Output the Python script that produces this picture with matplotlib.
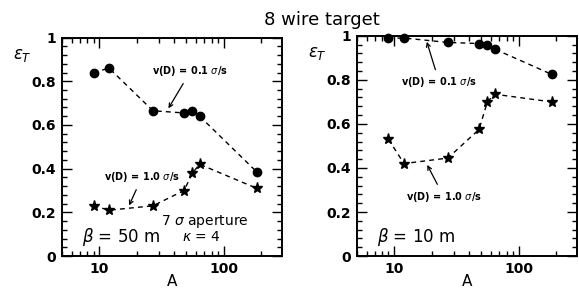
import matplotlib
matplotlib.use("Agg")
import matplotlib.pyplot as plt
from matplotlib.ticker import MultipleLocator, FixedLocator, NullFormatter, LogLocator

# Data
A = [9, 12, 27, 48, 56, 64, 184]
eff50_slow = [0.84, 0.86, 0.665, 0.655, 0.665, 0.64, 0.385]
eff50_fast = [0.23, 0.21, 0.23, 0.30, 0.38, 0.42, 0.31]
eff10_slow = [0.99, 0.99, 0.97, 0.965, 0.958, 0.94, 0.825]
eff10_fast = [0.53, 0.42, 0.445, 0.575, 0.70, 0.735, 0.70]
yticks = [0, 0.2, 0.4, 0.6, 0.8, 1]
ytick_labels = ["0", "0.2", "0.4", "0.6", "0.8", "1"]
xticks = [10, 100]
xtick_labels = ["10", "100"]

plt.rcParams['font.family'] = ['DejaVu Sans']
plt.rcParams['mathtext.fontset'] = 'dejavusans'

fig = plt.figure(figsize=(5.79, 2.89), dpi=100)
ax1 = fig.add_axes([0.1066, 0.114, 0.381, 0.756])
ax2 = fig.add_axes([0.616, 0.114, 0.381, 0.762])

fig.text(0.556, 0.93, "8 wire target", ha='center', va='center', fontsize=13)

def style(ax):
    ax.set_xscale('log')
    ax.set_xlim(5, 295)
    ax.set_ylim(0, 1)
    ax.set_yticks(yticks)
    ax.set_yticklabels(ytick_labels, fontsize=10, fontweight='bold')
    ax.yaxis.set_minor_locator(MultipleLocator(0.04))
    ax.set_xticks(xticks)
    ax.set_xticklabels(xtick_labels, fontsize=10, fontweight='bold')
    ax.xaxis.set_minor_locator(LogLocator(base=10, subs=range(2, 10)))
    ax.xaxis.set_minor_formatter(NullFormatter())
    ax.tick_params(which='both', direction='in', top=True, right=True, width=1)
    ax.tick_params(which='major', length=7, pad=4)
    ax.tick_params(which='minor', length=3.5)
    for s in ax.spines.values():
        s.set_linewidth(1.4)
    ax.set_xlabel("A", fontsize=11, labelpad=-1.5)
    ax.text(-0.18, 0.92, r'$\varepsilon_T$', transform=ax.transAxes,
            fontsize=12, ha='center', va='center')

for ax in (ax1, ax2):
    style(ax)

ln = dict(color='black', linestyle=(0, (3.5, 3)), linewidth=1)
ax1.plot(A, eff50_slow, marker='o', markersize=6, **ln)
ax1.plot(A, eff50_fast, marker='*', markersize=8, **ln)
ax2.plot(A, eff10_slow, marker='o', markersize=6, clip_on=False, **ln)
ax2.plot(A, eff10_fast, marker='*', markersize=8, **ln)

ap = dict(arrowstyle='->', color='black', lw=0.9)
lab = dict(fontsize=7, fontweight='bold', ha='center', va='center')
ax1.annotate(r"v(D) = 0.1 $\sigma$/s", xy=(35, 0.665), xytext=(54, 0.845),
             arrowprops=ap, **lab)
ax1.annotate(r"v(D) = 1.0 $\sigma$/s", xy=(17, 0.22), xytext=(22, 0.36),
             arrowprops=ap, **lab)
ax2.annotate(r"v(D) = 0.1 $\sigma$/s", xy=(18, 0.985), xytext=(23, 0.79),
             arrowprops=ap, **lab)
ax2.annotate(r"v(D) = 1.0 $\sigma$/s", xy=(18, 0.425), xytext=(25, 0.27),
             arrowprops=ap, **lab)

ax1.text(70, 0.16, r"7 $\sigma$ aperture", fontsize=10, ha='center', va='center')
ax1.text(46, 0.087, r"$\kappa$ = 4", fontsize=10, ha='left', va='center')
ax1.text(15, 0.087, r"$\beta$ = 50 m", fontsize=12, ha='center', va='center')
ax2.text(15, 0.087, r"$\beta$ = 10 m", fontsize=12, ha='center', va='center')

fig.savefig("out.png", dpi=100)
